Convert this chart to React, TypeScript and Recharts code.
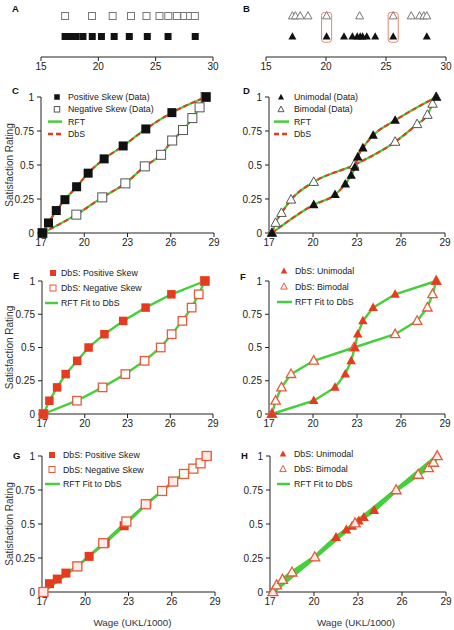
import React from 'react';
import { ComposedChart, Line, Scatter, XAxis, YAxis, Legend, ReferenceArea, Label } from 'recharts';

// wages (UKL/1000) of the four distributions
const posSkewWage = [17.1, 17.52, 18.06, 18.66, 19.47, 20.27, 21.38, 22.7, 24.27, 26.08, 28.45];
const negSkewWage = [17.1, 19.45, 21.25, 22.85, 24.2, 25.33, 26.1, 26.85, 27.5, 28.0, 28.42];
const unimodalWage = [17.2, 20.05, 21.5, 22.2, 22.6, 22.85, 23.05, 23.4, 24.1, 25.6, 28.4];
const bimodalWage = [17.2, 17.45, 17.85, 18.5, 20.05, 22.8, 25.6, 27.1, 27.8, 28.15, 28.4];
const highlightWage = [20.05, 25.6];

// satisfaction ratings
const posSkewRating = [0, 0.074, 0.165, 0.245, 0.34, 0.44, 0.545, 0.64, 0.765, 0.885, 1];
const negSkewRating = [0, 0.135, 0.262, 0.365, 0.49, 0.575, 0.68, 0.757, 0.845, 0.924, 1];
const unimodalRating = [0, 0.208, 0.282, 0.36, 0.424, 0.483, 0.559, 0.625, 0.718, 0.828, 1];
const bimodalRating = [0, 0.074, 0.147, 0.245, 0.375, 0.5, 0.67, 0.8, 0.868, 0.95, 1];
const dbsRating = [0, 0.1, 0.2, 0.3, 0.4, 0.5, 0.6, 0.7, 0.8, 0.9, 1];
const rftPosRating = [0, 0.061, 0.095, 0.139, 0.19, 0.262, 0.36, 0.487, 0.648, 0.812, 1];
const rftNegRating = [0, 0.188, 0.359, 0.518, 0.645, 0.743, 0.812, 0.868, 0.907, 0.946, 1];
const rftUniRating = [0, 0.255, 0.402, 0.456, 0.485, 0.505, 0.522, 0.548, 0.6, 0.75, 1];
const rftBiRating = [0, 0.049, 0.09, 0.144, 0.256, 0.505, 0.749, 0.863, 0.912, 0.951, 1];

const distTicks = [15, 20, 25, 30];
const wageTicks = [17, 20, 23, 26, 29];
const ratingTicks = [0, 0.25, 0.5, 0.75, 1];

const GREEN = '#45cf38';
const RED = '#e63b1e';
const RED_OPEN = '#e85a3c';
const INK = '#222';
const FONT = '"Liberation Sans", Arial, Helvetica, sans-serif';

type Pt = { w: number; v: number };
const pts = (ws: number[], vs: number[]): Pt[] => ws.map((w, i) => ({ w, v: vs[i] }));
const row = (ws: number[], v: number): Pt[] => ws.map((w) => ({ w, v }));

const square = (size: number, fill: string, stroke: string, sw = 1) => (p: any) => (
  <rect x={p.cx - size / 2} y={p.cy - size / 2} width={size} height={size} fill={fill} stroke={stroke} strokeWidth={sw} />
);
const triangle = (size: number, fill: string, stroke: string, sw = 1) => (p: any) => {
  const h = size * 0.9;
  return (
    <polygon
      points={`${p.cx},${p.cy - h * 0.6} ${p.cx + size / 2},${p.cy + h * 0.4} ${p.cx - size / 2},${p.cy + h * 0.4}`}
      fill={fill}
      stroke={stroke}
      strokeWidth={sw}
      strokeLinejoin="miter"
    />
  );
};

type Series =
  | { kind: 'line'; data: Pt[]; color: string; width: number; dash?: string; curve: 'monotone' | 'linear' }
  | { kind: 'dots'; data: Pt[]; shape: (p: any) => React.ReactElement };

type Icon = 'sq' | 'sqo' | 'tri' | 'trio' | 'line' | 'dash';
type LegendRow = { icon: Icon; color: string; label: string };
type LegendGeo = { left: number; top: number; iconX: number; lineW: number; textX: number; gap: number; size: number };

const LegendBox = ({ rows, g }: { rows: LegendRow[]; g: LegendGeo }) => (
  <svg width={170} height={rows.length * g.gap + 6} style={{ overflow: 'visible', display: 'block' }}>
    {rows.map((r, i) => {
      const y = 6 + i * g.gap;
      const s = g.size;
      let icon: React.ReactNode = null;
      if (r.icon === 'sq') icon = <rect x={g.iconX - s / 2} y={y - s / 2} width={s} height={s} fill={r.color} />;
      if (r.icon === 'sqo') icon = <rect x={g.iconX - s / 2} y={y - s / 2} width={s} height={s} fill="#fff" stroke={r.color} />;
      if (r.icon === 'tri' || r.icon === 'trio') {
        icon = (
          <polygon
            points={`${g.iconX},${y - s * 0.55} ${g.iconX + s / 2},${y + s * 0.4} ${g.iconX - s / 2},${y + s * 0.4}`}
            fill={r.icon === 'tri' ? r.color : '#fff'}
            stroke={r.color}
            strokeWidth={r.icon === 'tri' ? 0 : 1}
          />
        );
      }
      if (r.icon === 'line') icon = <line x1={0} x2={g.lineW} y1={y} y2={y} stroke={r.color} strokeWidth={2.5} />;
      if (r.icon === 'dash') icon = <line x1={0} x2={g.lineW} y1={y} y2={y} stroke={r.color} strokeWidth={2.5} strokeDasharray="5 3" />;
      return (
        <g key={i}>
          {icon}
          <text x={g.textX} y={y} dy="0.35em" fontSize={8.8} fill={INK} fontFamily={FONT}>
            {r.label}
          </text>
        </g>
      );
    })}
  </svg>
);

type PanelProps = {
  left: number;
  top: number;
  width: number;
  height: number;
  mLeft?: number;
  mRight: number;
  yWidth: number;
  xHeight: number;
  xDomain: [number, number];
  xTicks: number[];
  yDomain: [number, number];
  hideY?: boolean;
  series: Series[];
  legend?: LegendRow[];
  legendGeo?: LegendGeo;
  yLabel?: boolean;
  xLabel?: boolean;
  xLabelDx?: number;
  boxes?: number[];
};

const tickStyle = { fontSize: 10, fill: INK, fontFamily: FONT };

const Panel = (p: PanelProps) => (
  <div style={{ position: 'absolute', left: p.left, top: p.top }}>
    <ComposedChart
      width={p.width}
      height={p.height}
      margin={{ top: 10, right: p.mRight, bottom: 0, left: p.mLeft ?? 0 }}
    >
      <XAxis
        type="number"
        dataKey="w"
        domain={p.xDomain}
        ticks={p.xTicks}
        height={p.xHeight}
        tick={tickStyle}
        tickSize={4}
        tickMargin={2}
        axisLine={{ stroke: INK }}
        tickLine={{ stroke: INK }}
        interval={0}
      >
        {p.xLabel && (
          <Label
            value="Wage (UKL/1000)"
            position="insideBottom"
            offset={2}
            dx={p.xLabelDx ?? 0}
            style={{ fontSize: 9.8, fill: '#333', fontFamily: FONT }}
          />
        )}
      </XAxis>
      <YAxis
        type="number"
        dataKey="v"
        domain={p.yDomain}
        ticks={p.hideY ? undefined : ratingTicks}
        hide={p.hideY}
        width={p.yWidth}
        tick={tickStyle}
        tickSize={4}
        tickMargin={3}
        axisLine={{ stroke: INK }}
        tickLine={{ stroke: INK }}
        interval={0}
        tickFormatter={(v: number) => String(v)}
      >
        {p.yLabel && (
          <Label
            value="Satisfaction Rating"
            position="insideLeft"
            angle={-90}
            offset={9}
            textAnchor="middle"
            style={{ fontSize: 10, fill: '#333', fontFamily: FONT, textAnchor: 'middle' }}
          />
        )}
      </YAxis>
      {(p.boxes ?? []).map((w, i) => (
        <ReferenceArea
          key={`box${i}`}
          x1={w - 0.42}
          x2={w + 0.42}
          y1={0.72}
          y2={2.18}
          ifOverflow="visible"
          shape={(r: any) => (
            <rect x={r.x} y={r.y} width={r.width} height={r.height} rx={3} fill="none" stroke="#e8866c" strokeWidth={1} />
          )}
        />
      ))}
      {p.series.map((s, i) =>
        s.kind === 'line' ? (
          <Line
            key={i}
            data={s.data}
            dataKey="v"
            type={s.curve}
            stroke={s.color}
            strokeWidth={s.width}
            strokeDasharray={s.dash}
            dot={false}
            activeDot={false}
            legendType="none"
            isAnimationActive={false}
          />
        ) : (
          <Scatter key={i} data={s.data} dataKey="v" shape={s.shape} legendType="none" isAnimationActive={false} />
        ),
      )}
      {p.legend && p.legendGeo && (
        <Legend
          layout="vertical"
          align="center"
          verticalAlign="middle"
          wrapperStyle={{ left: p.legendGeo.left, top: p.legendGeo.top, width: 170 }}
          content={() => <LegendBox rows={p.legend as LegendRow[]} g={p.legendGeo as LegendGeo} />}
        />
      )}
    </ComposedChart>
  </div>
);

const dataLegend = (a: Icon, b: Icon, la: string, lb: string): LegendRow[] => [
  { icon: a, color: '#111', label: la },
  { icon: b, color: '#555', label: lb },
  { icon: 'line', color: GREEN, label: 'RFT' },
  { icon: 'dash', color: RED, label: 'DbS' },
];
const dbsLegend = (a: Icon, b: Icon, la: string, lb: string): LegendRow[] => [
  { icon: a, color: RED, label: la },
  { icon: b, color: RED_OPEN, label: lb },
  { icon: 'line', color: GREEN, label: 'RFT Fit to DbS' },
];

const fitPair = (d1: Pt[], d2: Pt[], curve: 'monotone' | 'linear', withDbs: boolean, width = 2.2): Series[] => {
  const out: Series[] = [
    { kind: 'line', data: d1, color: GREEN, width, curve },
    { kind: 'line', data: d2, color: GREEN, width, curve },
  ];
  if (withDbs) {
    out.push({ kind: 'line', data: d1, color: RED, width: 2, dash: '5 3', curve });
    out.push({ kind: 'line', data: d2, color: RED, width: 2, dash: '5 3', curve });
  }
  return out;
};

const Letter = ({ x, y, t }: { x: number; y: number; t: string }) => (
  <div style={{ position: 'absolute', left: x, top: y, fontSize: 9.5, lineHeight: '9.5px', fontWeight: 700, fontFamily: FONT, color: '#111' }}>
    {t}
  </div>
);

export default function App() {
  const posC = pts(posSkewWage, posSkewRating);
  const negC = pts(negSkewWage, negSkewRating);
  const uniD = pts(unimodalWage, unimodalRating);
  const biD = pts(bimodalWage, bimodalRating);
  const posE = pts(posSkewWage, dbsRating);
  const negE = pts(negSkewWage, dbsRating);
  const uniF = pts(unimodalWage, dbsRating);
  const biF = pts(bimodalWage, dbsRating);
  const posG = pts(posSkewWage, rftPosRating);
  const negG = pts(negSkewWage, rftNegRating);
  const uniH = pts(unimodalWage, rftUniRating);
  const biH = pts(bimodalWage, rftBiRating);

  return (
    <div style={{ position: 'fixed', left: 0, top: 0, width: 454, height: 630, background: '#fff', fontFamily: FONT, overflow: 'hidden' }}>
      {/* A: skewed wage distributions */}
      <Panel
        left={0} top={5.5} width={223} height={73} mLeft={41} mRight={10} yWidth={0} xHeight={22}
        xDomain={[15, 30]} xTicks={distTicks} yDomain={[0, 2]} hideY
        series={[
          { kind: 'dots', data: row(negSkewWage, 2), shape: square(7, '#fff', '#777') },
          { kind: 'dots', data: row(posSkewWage, 1), shape: square(7, '#111', '#111', 0) },
        ]}
      />
      {/* B: unimodal / bimodal distributions */}
      <Panel
        left={227} top={5.5} width={227} height={73} mLeft={39} mRight={8} yWidth={0} xHeight={22}
        xDomain={[15, 30]} xTicks={distTicks} yDomain={[0, 2]} hideY boxes={highlightWage}
        series={[
          { kind: 'dots', data: row(bimodalWage, 2), shape: triangle(8, '#fff', '#777') },
          { kind: 'dots', data: row(unimodalWage, 1), shape: triangle(8, '#111', '#111', 0) },
        ]}
      />
      {/* C */}
      <Panel
        left={0} top={87} width={224} height={168} mRight={10} yWidth={41} xHeight={22}
        xDomain={[17, 29]} xTicks={wageTicks} yDomain={[0, 1]} yLabel
        series={[
          ...fitPair(posC, negC, 'monotone', true),
          { kind: 'dots', data: negC, shape: square(9, '#fff', '#555') },
          { kind: 'dots', data: posC, shape: square(9, '#111', '#111', 0) },
        ]}
        legend={dataLegend('sq', 'sqo', 'Positive Skew (Data)', 'Negative Skew (Data)')}
        legendGeo={{ left: 48, top: 4, iconX: 9, lineW: 14, textX: 20, gap: 12.3, size: 5.5 }}
      />
      {/* D */}
      <Panel
        left={227} top={87} width={226} height={168} mRight={8} yWidth={42} xHeight={22}
        xDomain={[17, 29]} xTicks={wageTicks} yDomain={[0, 1]}
        series={[
          ...fitPair(uniD, biD, 'monotone', true),
          { kind: 'dots', data: biD, shape: triangle(9.5, '#fff', '#555') },
          { kind: 'dots', data: uniD, shape: triangle(9.5, '#111', '#111', 0) },
        ]}
        legend={dataLegend('tri', 'trio', 'Unimodal (Data)', 'Bimodal (Data)')}
        legendGeo={{ left: 47, top: 4, iconX: 7, lineW: 15, textX: 20, gap: 12.3, size: 6 }}
      />
      {/* E */}
      <Panel
        left={0} top={271} width={223} height={165} mRight={10} yWidth={42} xHeight={22}
        xDomain={[17, 29]} xTicks={wageTicks} yDomain={[0, 1]} yLabel
        series={[
          ...fitPair(posE, negE, 'linear', false, 2.4),
          { kind: 'dots', data: negE, shape: square(8.5, '#fff', RED_OPEN, 1.3) },
          { kind: 'dots', data: posE, shape: square(8.5, RED, RED, 0) },
        ]}
        legend={dbsLegend('sq', 'sqo', 'DbS: Positive Skew', 'DbS: Negative Skew')}
        legendGeo={{ left: 45, top: -4, iconX: 8, lineW: 13, textX: 16, gap: 15, size: 6 }}
      />
      {/* F */}
      <Panel
        left={227} top={271} width={226} height={165} mRight={8} yWidth={42} xHeight={22}
        xDomain={[17, 29]} xTicks={wageTicks} yDomain={[0, 1]}
        series={[
          ...fitPair(uniF, biF, 'linear', false, 2.4),
          { kind: 'dots', data: biF, shape: triangle(9.5, '#fff', RED_OPEN, 1.3) },
          { kind: 'dots', data: uniF, shape: triangle(9.5, RED, RED, 0) },
        ]}
        legend={dbsLegend('tri', 'trio', 'DbS: Unimodal', 'DbS: Bimodal')}
        legendGeo={{ left: 50, top: -6, iconX: 7, lineW: 15, textX: 18, gap: 15.5, size: 6.5 }}
      />
      {/* G */}
      <Panel
        left={0} top={446} width={225} height={182} mRight={10} yWidth={42} xHeight={36}
        xDomain={[17, 29]} xTicks={wageTicks} yDomain={[0, 1]} yLabel xLabel xLabelDx={4}
        series={[
          ...fitPair(posG, negG, 'linear', false, 2.4),
          { kind: 'dots', data: posG, shape: square(9, RED, RED, 0) },
          { kind: 'dots', data: negG, shape: square(9, 'rgba(255,255,255,0.9)', RED_OPEN, 1.3) },
        ]}
        legend={dbsLegend('sq', 'sqo', 'DbS: Positive Skew', 'DbS: Negative Skew')}
        legendGeo={{ left: 45, top: 3, iconX: 7, lineW: 15, textX: 18, gap: 14.5, size: 6 }}
      />
      {/* H */}
      <Panel
        left={227} top={446} width={227} height={182} mRight={8} yWidth={43} xHeight={36}
        xDomain={[17, 29]} xTicks={wageTicks} yDomain={[0, 1]} xLabel xLabelDx={-2}
        series={[
          ...fitPair(uniH, biH, 'linear', false, 4),
          { kind: 'dots', data: uniH, shape: triangle(10, RED, RED, 0) },
          { kind: 'dots', data: biH, shape: triangle(10, 'rgba(255,255,255,0.9)', RED_OPEN, 1.3) },
        ]}
        legend={dbsLegend('tri', 'trio', 'DbS: Unimodal', 'DbS: Bimodal')}
        legendGeo={{ left: 50, top: 2, iconX: 6, lineW: 13, textX: 17, gap: 15, size: 6.5 }}
      />
      <Letter x={12} y={4} t="A" />
      <Letter x={243} y={4} t="B" />
      <Letter x={12} y={86} t="C" />
      <Letter x={243} y={86} t="D" />
      <Letter x={13} y={271} t="E" />
      <Letter x={240} y={271.5} t="F" />
      <Letter x={13} y={451} t="G" />
      <Letter x={241} y={451} t="H" />
    </div>
  );
}
